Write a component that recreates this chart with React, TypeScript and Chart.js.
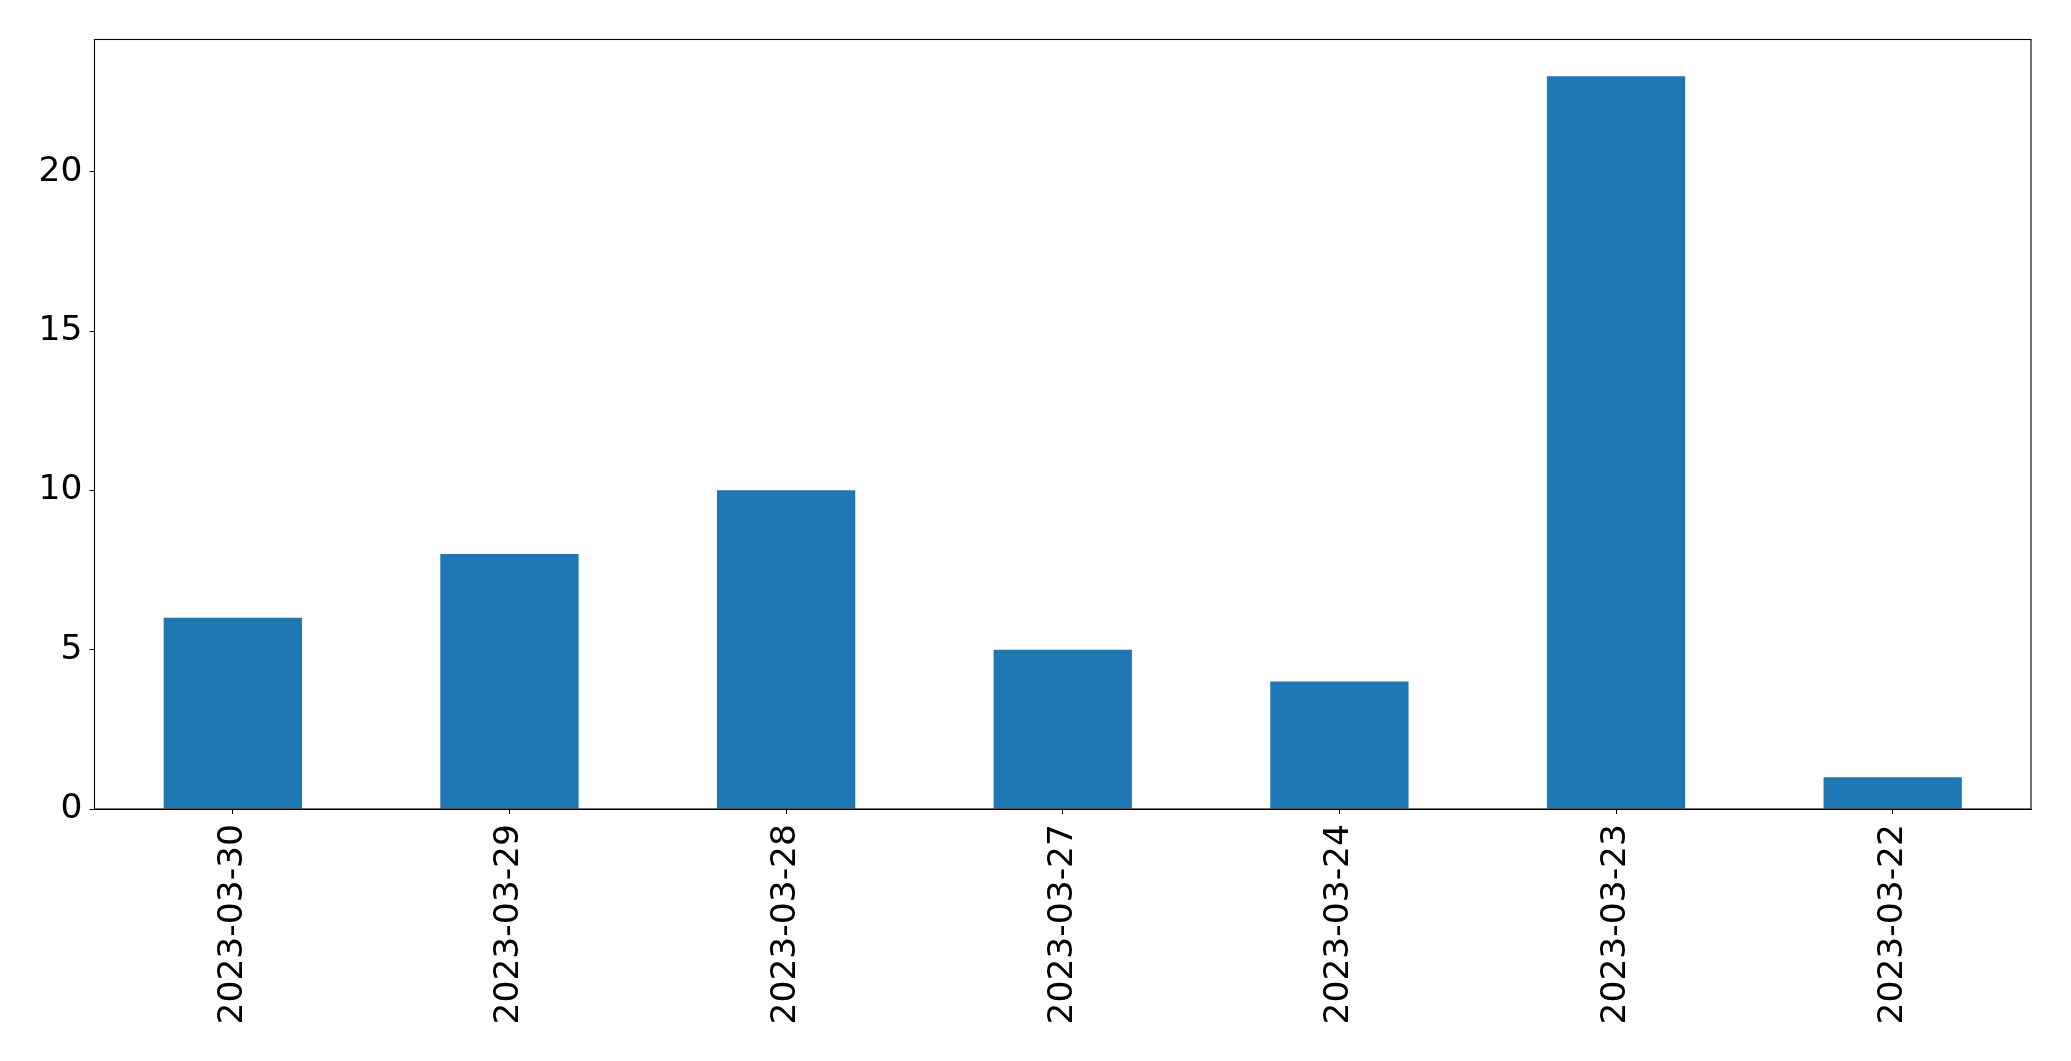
import React, { useEffect, useRef } from "react";
import { Chart, registerables } from "chart.js";

Chart.register(...registerables);

const categories: string[] = [
  "2023-03-30",
  "2023-03-29",
  "2023-03-28",
  "2023-03-27",
  "2023-03-24",
  "2023-03-23",
  "2023-03-22",
];
const counts: number[] = [6, 8, 10, 5, 4, 23, 1];
const yTickValues: number[] = [0, 5, 10, 15, 20];

const W = 2071;
const H = 1061;
const FONT = "'DejaVu Sans', sans-serif";

const framePlugin = {
  id: "frame",
  afterDraw(chart: any) {
    const { ctx, chartArea } = chart;
    ctx.save();
    ctx.strokeStyle = "#000";
    ctx.lineWidth = 1.1;
    ctx.strokeRect(chartArea.left, chartArea.top, chartArea.right - chartArea.left, chartArea.bottom - chartArea.top);
    ctx.restore();
  },
};

export default function App() {
  const ref = useRef<HTMLCanvasElement | null>(null);

  useEffect(() => {
    if (!ref.current) return;
    const maxVal = Math.max(...counts) * 1.05;
    const chart = new Chart(ref.current, {
      type: "bar",
      data: {
        labels: categories,
        datasets: [
          {
            data: counts,
            backgroundColor: "#1f77b4",
            borderWidth: 0,
            categoryPercentage: 1,
            barPercentage: 0.5,
          },
        ],
      },
      plugins: [framePlugin],
      options: {
        animation: false,
        responsive: false,
        devicePixelRatio: 1,
        layout: { padding: { left: 0, top: 39.5, right: 40, bottom: 0 } },
        plugins: {
          legend: { display: false },
          tooltip: { enabled: false },
          title: { display: false },
        },
        scales: {
          x: {
            offset: true,
            grid: {
              display: true,
              drawOnChartArea: false,
              drawTicks: true,
              tickLength: 5,
              tickWidth: 1,
              tickColor: "#000",
              offset: false,
            },
            border: { display: true, color: "#000", width: 1 },
            ticks: {
              autoSkip: false,
              maxRotation: 90,
              minRotation: 90,
              padding: 10,
              color: "#000",
              font: { family: FONT, size: 34.5 },
            },
            afterFit(scale: any) {
              scale.height = 252;
            },
          },
          y: {
            min: 0,
            max: maxVal,
            grid: {
              display: true,
              drawOnChartArea: false,
              drawTicks: true,
              tickLength: 5,
              tickWidth: 1,
              tickColor: "#000",
            },
            border: { display: true, color: "#000", width: 1 },
            ticks: {
              includeBounds: false,
              stepSize: 5,
              padding: 7,
              color: "#000",
              font: { family: FONT, size: 34.5 },
            },
            afterBuildTicks(scale: any) {
              scale.ticks = yTickValues.map((v) => ({ value: v }));
            },
            afterFit(scale: any) {
              scale.width = 94.5;
            },
          },
        },
      },
    });
    return () => chart.destroy();
  }, []);

  return (
    <div style={{ position: "fixed", left: 0, top: 0, width: W, height: H, background: "#fff" }}>
      <canvas ref={ref} width={W} height={H} style={{ width: W, height: H, display: "block" }} />
    </div>
  );
}
